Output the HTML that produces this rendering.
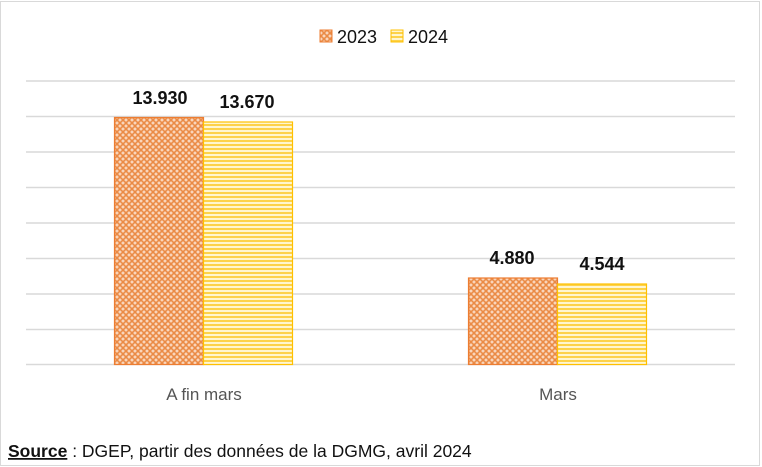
<!DOCTYPE html>
<html><head><meta charset="utf-8"><style>
body{margin:0;background:#fff;}
svg{display:block;font-family:"Liberation Sans",sans-serif;}
</style></head><body>
<svg width="762" height="467" viewBox="0 0 762 467">
<defs>
<pattern id="p1" width="6" height="6" patternUnits="userSpaceOnUse">
<rect width="6" height="6" fill="#ea8a45"/>
<circle cx="0" cy="0" r="1.5" fill="#f9d5bb"/><circle cx="6" cy="0" r="1.5" fill="#f9d5bb"/>
<circle cx="0" cy="6" r="1.5" fill="#f9d5bb"/><circle cx="6" cy="6" r="1.5" fill="#f9d5bb"/>
<circle cx="3" cy="3" r="1.5" fill="#f9d5bb"/>
</pattern>
<pattern id="p2" width="4" height="4" patternUnits="userSpaceOnUse">
<rect width="4" height="4" fill="#fff6cf"/>
<rect width="4" height="2" fill="#fdd24a"/>
</pattern>
</defs>
<rect x="0.5" y="1.5" width="759" height="464" fill="#fff" stroke="#d9d9d9"/>
<g stroke="#d9d9d9" stroke-width="1.5">
<line x1="26" x2="735" y1="81" y2="81"/>
<line x1="26" x2="735" y1="116.5" y2="116.5"/>
<line x1="26" x2="735" y1="152" y2="152"/>
<line x1="26" x2="735" y1="187.5" y2="187.5"/>
<line x1="26" x2="735" y1="223" y2="223"/>
<line x1="26" x2="735" y1="258.5" y2="258.5"/>
<line x1="26" x2="735" y1="294" y2="294"/>
<line x1="26" x2="735" y1="329.5" y2="329.5"/>
<line x1="26" x2="735" y1="364.5" y2="364.5"/>
</g>
<rect x="114.5" y="117.5" width="89" height="247" fill="url(#p1)" stroke="#ed7d31" stroke-width="1.2"/>
<rect x="203.5" y="122" width="89" height="242.5" fill="url(#p2)" stroke="#ffc000" stroke-width="1.2"/>
<rect x="468.5" y="278" width="89" height="86.5" fill="url(#p1)" stroke="#ed7d31" stroke-width="1.2"/>
<rect x="557.5" y="284" width="89" height="80.5" fill="url(#p2)" stroke="#ffc000" stroke-width="1.2"/>
<g font-size="18" fill="#111" text-anchor="middle" font-weight="bold">
<text x="160" y="104">13.930</text>
<text x="247" y="108">13.670</text>
<text x="512" y="264">4.880</text>
<text x="602" y="270">4.544</text>
</g>
<rect x="320" y="30" width="12" height="12" fill="url(#p1)" stroke="#ed7d31"/>
<text x="337" y="43" font-size="18" fill="#111">2023</text>
<rect x="391" y="30" width="12" height="12" fill="url(#p2)" stroke="#ffc000"/>
<text x="408" y="43" font-size="18" fill="#111">2024</text>
<g font-size="17" fill="#555" text-anchor="middle">
<text x="204" y="400">A fin mars</text>
<text x="558" y="400">Mars</text>
</g>
<text x="8" y="457" font-size="17.5" fill="#111"><tspan font-weight="bold" text-decoration="underline">Source</tspan> : DGEP,  partir des données de la DGMG, avril 2024</text>
</svg>
</body></html>
